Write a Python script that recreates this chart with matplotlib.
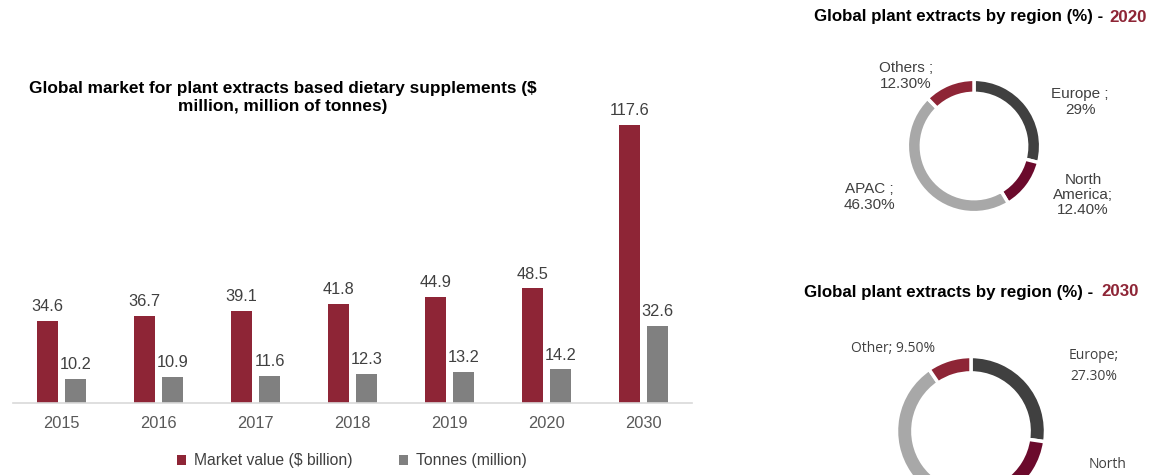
import matplotlib
matplotlib.use("Agg")
import matplotlib.pyplot as plt
import numpy as np

plt.rcParams['font.family'] = ['Liberation Sans', 'DejaVu Sans']

years = ['2015', '2016', '2017', '2018', '2019', '2020', '2030']
market_value = [34.6, 36.7, 39.1, 41.8, 44.9, 48.5, 117.6]
tonnes = [10.2, 10.9, 11.6, 12.3, 13.2, 14.2, 32.6]

regions_2020 = ['Europe', 'North America', 'APAC', 'Others']
share_2020 = [29.0, 12.4, 46.3, 12.3]
regions_2030 = ['Europe', 'North America', 'APAC', 'Other']
share_2030 = [27.3, 13.0, 50.2, 9.5]

RED = '#8E2536'
GREY = '#808080'
DONUT_COLORS = ['#404040', '#6B0A2C', '#A8A8A8', '#8E2536']
TXT = '#404040'

W, H = 1153, 475
fig = plt.figure(figsize=(W / 100, H / 100), dpi=100)


def px(x, y):
    return x / W, 1 - y / H


def box(x0, y0, x1, y1):
    return [x0 / W, 1 - y1 / H, (x1 - x0) / W, (y1 - y0) / H]


# ---- Bar chart ----
ax = fig.add_axes(box(13, 96, 692, 403))
x = np.arange(len(years))
bw = 0.215
b1 = ax.bar(x - 0.145, market_value, bw, color=RED, label='Market value ($ billion)')
b2 = ax.bar(x + 0.145, tonnes, bw, color=GREY, label='Tonnes (million)')
for rects, vals in ((b1, market_value), (b2, tonnes)):
    for r, v in zip(rects, vals):
        ax.annotate(f'{v}', (r.get_x() + r.get_width() / 2, v), xytext=(0, 5),
                    textcoords='offset points', ha='center', va='bottom',
                    fontsize=11.8, color=TXT)
ax.set_xlim(-0.5, len(years) - 0.5)
ax.set_ylim(0, 130)
ax.set_xticks(x)
ax.set_xticklabels(years, fontsize=11.8, color='#595959')
ax.tick_params(axis='x', length=0, pad=9)
ax.set_yticks([])
for s in ('left', 'right', 'top'):
    ax.spines[s].set_visible(False)
ax.spines['bottom'].set_color('#D9D9D9')
ax.spines['bottom'].set_linewidth(1.2)

fig.text(*px(283, 97), 'Global market for plant extracts based dietary supplements ($\nmillion, million of tonnes)',
         ha='center', va='center', fontsize=12.4, fontweight='bold', color='black', linespacing=1.25)

fig.legend(handles=[b1, b2], loc='center', bbox_to_anchor=px(352, 461), ncol=2, frameon=False,
           fontsize=11.3, handlelength=0.55, handleheight=0.55, handletextpad=0.5,
           columnspacing=3.0, labelcolor=TXT)

# ---- Donut 2020 ----
r1 = 68
axd1 = fig.add_axes(box(974 - r1, 146 - r1, 974 + r1, 146 + r1))
axd1.pie(share_2020, colors=DONUT_COLORS, startangle=90, counterclock=False, radius=1,
         wedgeprops=dict(width=0.21, edgecolor='white', linewidth=2.5))
axd1.set_xlim(-1.02, 1.02)
axd1.set_ylim(-1.02, 1.02)
axd1.set_aspect('equal')
axd1.axis('off')

fig.text(*px(1103, 17), 'Global plant extracts by region (%) -', ha='right', va='center',
         fontsize=12.2, fontweight='bold', color='black')
fig.text(*px(1109, 17), '2020', ha='left', va='center', fontsize=12.2, fontweight='bold', color=RED)

lab_kw = dict(ha='center', va='center', fontsize=11, color=TXT, linespacing=1.1)
fig.text(*px(906, 76), 'Others ;\n12.30%', **lab_kw)
fig.text(*px(1080, 102), 'Europe ;\n29%', **lab_kw)
fig.text(*px(1083, 195), 'North\nAmerica;\n12.40%', **lab_kw)
fig.text(*px(869, 197), 'APAC ;\n46.30%', **lab_kw)

# ---- Donut 2030 ----
r2 = 76
axd2 = fig.add_axes(box(971 - r2, 431 - r2, 971 + r2, 431 + r2))
axd2.pie(share_2030, colors=DONUT_COLORS, startangle=90, counterclock=False, radius=1,
         wedgeprops=dict(width=0.22, edgecolor='white', linewidth=2.5))
axd2.set_xlim(-1.02, 1.02)
axd2.set_ylim(-1.02, 1.02)
axd2.set_aspect('equal')
axd2.axis('off')

fig.text(*px(1093, 292), 'Global plant extracts by region (%) -', ha='right', va='center',
         fontsize=12.2, fontweight='bold', color='black')
fig.text(*px(1101, 292), '2030', ha='left', va='center', fontsize=12.2, fontweight='bold', color=RED)

lab2_kw = dict(ha='center', va='center', fontsize=10, color=TXT, linespacing=1.5,
               family=['Open Sans', 'DejaVu Sans'])
fig.text(*px(893, 349), 'Other; 9.50%', **lab2_kw)
fig.text(*px(1094, 366), 'Europe;\n27.30%', **lab2_kw)
fig.text(*px(1108, 465), 'North', **lab2_kw)

fig.savefig('out.png', dpi=100)
